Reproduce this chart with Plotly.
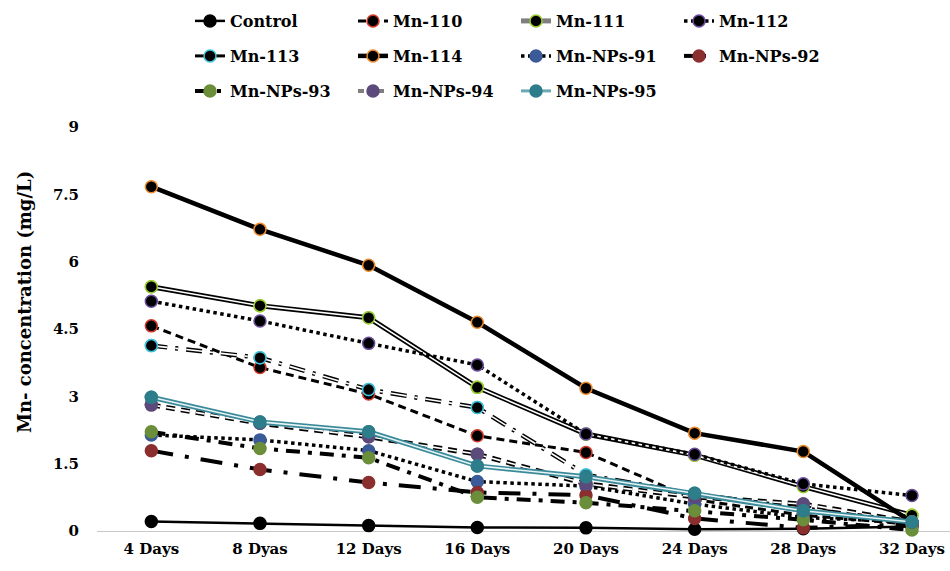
import plotly.graph_objects as go

days = ["4 Days", "8 Dyas", "12 Days", "16 Days", "20 Days", "24 Days", "28 Days", "32 Days"]

control = [0.21, 0.17, 0.12, 0.08, 0.07, 0.04, 0.05, 0.10]
mn110 = [4.57, 3.64, 3.05, 2.12, 1.75, 0.70, 0.35, 0.15]
mn111 = [5.44, 5.02, 4.75, 3.20, 2.16, 1.69, 0.99, 0.35]
mn112 = [5.12, 4.68, 4.18, 3.70, 2.16, 1.71, 1.05, 0.79]
mn113 = [4.13, 3.86, 3.15, 2.75, 1.25, 0.82, 0.50, 0.20]
mn114 = [7.67, 6.72, 5.92, 4.65, 3.18, 2.18, 1.77, 0.20]
nps91 = [2.14, 2.03, 1.79, 1.10, 1.00, 0.60, 0.30, 0.20]
nps92 = [1.79, 1.37, 1.08, 0.86, 0.80, 0.28, 0.07, 0.15]
nps93 = [2.21, 1.84, 1.63, 0.75, 0.63, 0.45, 0.25, 0.02]
nps94 = [2.81, 2.40, 2.10, 1.71, 1.05, 0.76, 0.60, 0.20]
nps95 = [2.98, 2.43, 2.21, 1.45, 1.21, 0.84, 0.45, 0.20]

y_ticks = [0, 1.5, 3, 4.5, 6, 7.5, 9]
y_tick_text = ["0", "1.5", "3", "4.5", "6", "7.5", "9"]

FONT = "DejaVu Serif"

# name, values, line color, width, dash, marker fill, marker outline, double(inner color), legend group, legend line
series = [
    ("Control", control, "black", 2.5, "solid", "black", "black", None, "legend", None),
    ("Mn-110", mn110, "black", 3, "8px,5px", "black", "#d23a2a", None, "legend", None),
    ("Mn-111", mn111, "black", 5, "solid", "black", "#9acd32", "white", "legend",
     dict(color="#7f7f7f", width=5, dash="solid")),
    ("Mn-112", mn112, "black", 3.5, "dot", "black", "#6a4c9c", None, "legend", None),
    ("Mn-113", mn113, "black", 4.5, "16px,8px,3px,8px", "black", "#3fc3dc", "white", "legend2",
     dict(color="black", width=3, dash="solid")),
    ("Mn-114", mn114, "black", 4.5, "solid", "black", "#ee8a2a", None, "legend2", None),
    ("Mn-NPs-91", nps91, "black", 3.5, "dot", "#3a5a98", "#3a5a98", None, "legend2", None),
    ("Mn-NPs-92", nps92, "black", 4, "22px,12px,4px,12px", "#8b2e2e", "#8b2e2e", None, "legend2", None),
    ("Mn-NPs-93", nps93, "black", 4, "14px,8px,4px,8px", "#6b8e3a", "#6b8e3a", None, "legend3", None),
    ("Mn-NPs-94", nps94, "black", 5, "9px,6px", "#5c4a7a", "#5c4a7a", "white", "legend3",
     dict(color="#7f7f7f", width=4, dash="6px,4px")),
    ("Mn-NPs-95", nps95, "#3a8a9a", 5, "solid", "#2e7d8a", "#2e7d8a", "#e8f4f6", "legend3",
     dict(color="#6aaab5", width=3, dash="solid")),
]

fig = go.Figure()
for name, vals, lc, lw, dash, mfill, mline, inner, lg, legline in series:
    marker = dict(size=12, color=mfill, line=dict(color=mline, width=1.5))
    if legline is not None:
        # legend-only entry styled like the reference legend sample
        fig.add_trace(go.Scatter(
            x=[None], y=[None], name=name, mode="lines+markers",
            line=legline, marker=marker, legend=lg, hoverinfo="skip",
        ))
    fig.add_trace(go.Scatter(
        x=days, y=vals, name=name, mode="lines+markers",
        line=dict(color=lc, width=lw, dash=dash),
        marker=marker, legend=lg, cliponaxis=False,
        showlegend=legline is None,
    ))
    if inner is not None:
        fig.add_trace(go.Scatter(
            x=days, y=vals, mode="lines", showlegend=False, hoverinfo="skip",
            line=dict(color=inner, width=1.6, dash=dash), cliponaxis=False,
        ))
        fig.add_trace(go.Scatter(
            x=days, y=vals, mode="markers", showlegend=False, hoverinfo="skip",
            marker=marker, cliponaxis=False,
        ))

legend_common = dict(
    orientation="h", xref="container", yref="container", xanchor="left", yanchor="middle",
    font=dict(family=FONT, size=16, color="black", weight="bold"),
    entrywidth=118, entrywidthmode="pixels", bgcolor="rgba(0,0,0,0)", tracegroupgap=0,
    traceorder="normal",
)

fig.update_layout(
    width=950, height=571,
    margin=dict(l=97, r=0, t=127, b=40),
    paper_bgcolor="white", plot_bgcolor="white",
    legend=dict(legend_common, x=0.2, y=1 - 21 / 571),
    legend2=dict(legend_common, x=0.2, y=1 - 56 / 571),
    legend3=dict(legend_common, x=0.2, y=1 - 91 / 571),
    xaxis=dict(
        type="category", range=[-0.5, 7.35], showgrid=False, showline=False,
        ticks="outside", ticklen=4, tickcolor="rgba(0,0,0,0)",
        tickfont=dict(family=FONT, size=15, color="black", weight="bold"),
        zeroline=False,
    ),
    yaxis=dict(
        range=[0, 9], tickvals=y_ticks, ticktext=y_tick_text, showgrid=False,
        showline=False, ticks="outside", ticklen=14, tickcolor="rgba(0,0,0,0)",
        zeroline=True, zerolinecolor="#c8c8c8", zerolinewidth=1.2,
        tickfont=dict(family=FONT, size=15, color="black", weight="bold"),
        automargin=False,
    ),
    annotations=[dict(
        text="Mn- concentration (mg/L)", textangle=-90, showarrow=False,
        xref="paper", yref="paper", x=(24 - 97) / 853, y=(531 - 302) / 404,
        xanchor="center", yanchor="middle",
        font=dict(family=FONT, size=18, color="black", weight="bold"),
    )],
)

fig.write_html("out.html")
